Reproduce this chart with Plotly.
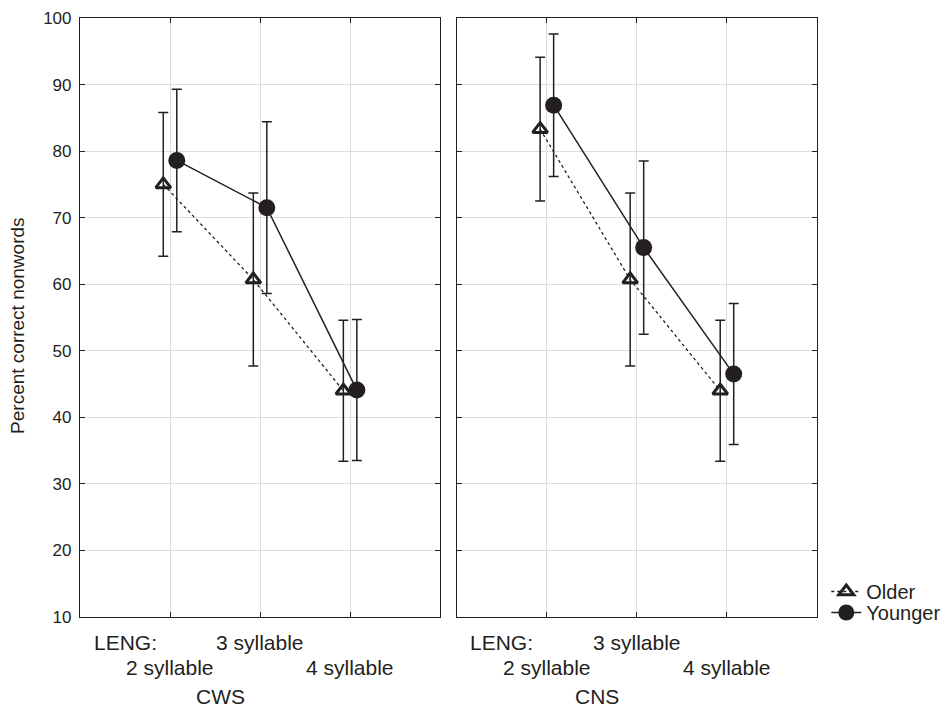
import plotly.graph_objects as go

categories = ["2 syllable", "3 syllable", "4 syllable"]
groups = ["CWS", "CNS"]

cws_older = [75.0, 60.7, 44.0]
cws_older_err = [10.8, 13.0, 10.6]
cws_younger = [78.6, 71.5, 44.1]
cws_younger_err = [10.7, 12.9, 10.6]

cns_older = [83.3, 60.7, 44.0]
cns_older_err = [10.8, 13.0, 10.6]
cns_younger = [86.9, 65.5, 46.5]
cns_younger_err = [10.7, 13.0, 10.6]

yticks = [10, 20, 30, 40, 50, 60, 70, 80, 90, 100]

INK = "#231f20"
FONT = "Liberation Sans, Arial, sans-serif"
base = [1, 2, 3]
off = 0.075

fig = go.Figure()

panels = [
    ("x", "y", cws_older, cws_older_err, cws_younger, cws_younger_err, True),
    ("x2", "y2", cns_older, cns_older_err, cns_younger, cns_younger_err, False),
]
for xa, ya, o, oe, yv, ye, show in panels:
    fig.add_trace(go.Scatter(
        x=[b - off for b in base], y=o, xaxis=xa, yaxis=ya, name="Older",
        mode="lines+markers", showlegend=show, legend="legend",
        line=dict(color=INK, width=1.3, dash="dot"),
        marker=dict(symbol="triangle-up-open", size=13, color=INK,
                    line=dict(width=3, color=INK)),
        error_y=dict(type="data", array=oe, visible=True, color=INK,
                     thickness=1.5, width=5),
    ))
    fig.add_trace(go.Scatter(
        x=[b + off for b in base], y=yv, xaxis=xa, yaxis=ya, name="Younger",
        mode="lines+markers", showlegend=show, legend="legend2",
        line=dict(color=INK, width=1.5),
        marker=dict(symbol="circle", size=17, color=INK),
        error_y=dict(type="data", array=ye, visible=True, color=INK,
                     thickness=1.5, width=5),
    ))

axis_common = dict(
    showgrid=True, gridcolor="#dcdcdc", gridwidth=1,
    showline=True, linecolor="#222", linewidth=1.2, mirror="ticks",
    ticks="inside", ticklen=5, tickcolor="#222", zeroline=False,
    automargin=False,
)
W = 736.7
leg_common = dict(xanchor="left", yanchor="top", font=dict(size=20),
                  bgcolor="rgba(0,0,0,0)", itemwidth=30)
fig.update_layout(
    width=944, height=709,
    margin=dict(l=80, r=127.3, t=18, b=92, autoexpand=False),
    paper_bgcolor="white", plot_bgcolor="white",
    font=dict(family=FONT, size=21, color=INK),
    xaxis=dict(domain=[0, 360 / W], range=[0, 4], tickvals=base,
               showticklabels=False, anchor="y", **axis_common),
    xaxis2=dict(domain=[376.7 / W, 1], range=[0, 4], tickvals=base,
                showticklabels=False, anchor="y2", **axis_common),
    yaxis=dict(range=[10, 100], tickvals=yticks, anchor="x",
               tickfont=dict(size=17), ticklabelstandoff=4, **axis_common),
    yaxis2=dict(range=[10, 100], tickvals=yticks, anchor="x2",
                showticklabels=False, **axis_common),
    legend=dict(x=1.0126, y=0.0751, **leg_common),
    legend2=dict(x=1.0126, y=0.0401, **leg_common),
)

fig.add_annotation(x=-0.0842, y=0.4875, xref="paper", yref="paper",
                   text="Percent correct nonwords", textangle=-90,
                   showarrow=False, font=dict(size=19),
                   xanchor="center", yanchor="middle")

for xr, grp in (("x", groups[0]), ("x2", groups[1])):
    fig.add_annotation(x=0.5, y=-0.042, xref=xr, yref="paper", text="LENG:",
                       showarrow=False, yanchor="middle")
    fig.add_annotation(x=2, y=-0.042, xref=xr, yref="paper", text=categories[1],
                       showarrow=False, yanchor="middle")
    fig.add_annotation(x=1, y=-0.0835, xref=xr, yref="paper", text=categories[0],
                       showarrow=False, yanchor="middle")
    fig.add_annotation(x=3, y=-0.0835, xref=xr, yref="paper", text=categories[2],
                       showarrow=False, yanchor="middle")
    fig.add_annotation(x=1.56, y=-0.133, xref=xr, yref="paper", text=grp,
                       showarrow=False, yanchor="middle")

fig.write_html(
    "out.html",
    config={"displayModeBar": False},
    post_script=(
        "document.documentElement.style.margin='0';"
        "document.body.style.margin='0';"
        "document.documentElement.style.overflow='hidden';"
        "document.body.style.overflow='hidden';"
    ),
)
